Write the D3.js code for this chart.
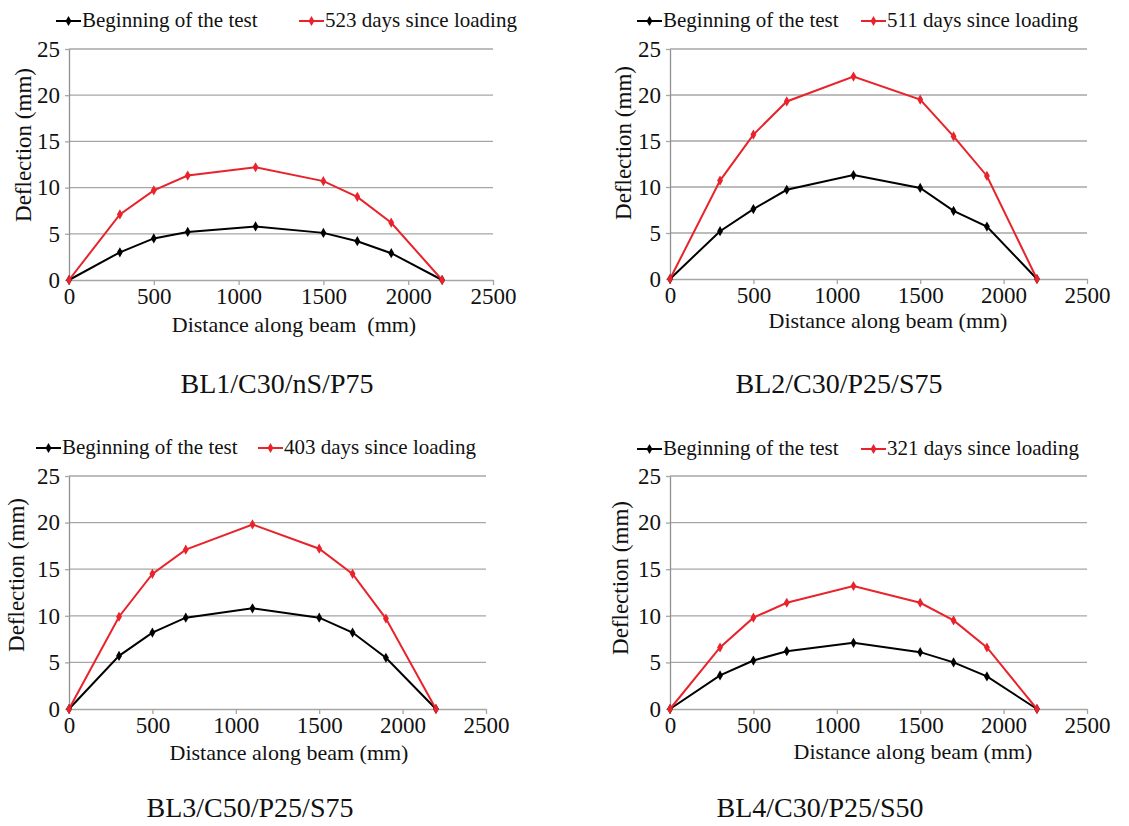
<!DOCTYPE html>
<html>
<head>
<meta charset="utf-8">
<script src="https://cdn.jsdelivr.net/npm/d3@7"></script>
<style>
  html, body { margin: 0; padding: 0; background: #fff; }
  svg { display: block; }
  svg text { font-family: "Liberation Serif", "Times New Roman", serif; }
</style>
</head>
<body>
<svg id="chart" width="1129" height="826"></svg>
<script>
// distance along the beam where deflection was measured (mm)
const distance = [0, 300, 500, 700, 1100, 1500, 1700, 1900, 2200];

// deflection (mm) at the beginning of the test
const bl1Start = [0, 3.0, 4.5, 5.2, 5.8, 5.1, 4.2, 2.9, 0];
const bl2Start = [0, 5.2, 7.6, 9.7, 11.3, 9.9, 7.4, 5.7, 0];
const bl3Start = [0, 5.7, 8.2, 9.8, 10.8, 9.8, 8.2, 5.5, 0];
const bl4Start = [0, 3.6, 5.2, 6.2, 7.1, 6.1, 5.0, 3.5, 0];

// deflection (mm) after long-term loading
const bl1Late = [0, 7.1, 9.7, 11.3, 12.2, 10.7, 9.0, 6.2, 0];
const bl2Late = [0, 10.7, 15.7, 19.3, 22.0, 19.5, 15.5, 11.2, 0];
const bl3Late = [0, 9.9, 14.5, 17.1, 19.8, 17.2, 14.5, 9.7, 0];
const bl4Late = [0, 6.6, 9.8, 11.4, 13.2, 11.4, 9.5, 6.6, 0];

const startLabel = "Beginning of the test";
const lateLabels = ["523 days since loading", "511 days since loading",
                    "403 days since loading", "321 days since loading"];
const captions = ["BL1/C30/nS/P75", "BL2/C30/P25/S75", "BL3/C50/P25/S75", "BL4/C30/P25/S50"];
const xTitles = ["Distance along beam  (mm)", "Distance along beam (mm)",
                 "Distance along beam (mm)", "Distance along beam (mm)"];
const yTitle = "Deflection (mm)";
const xTicks = [0, 500, 1000, 1500, 2000, 2500];
const yTicks = [0, 5, 10, 15, 20, 25];

const RED = "#e8232b";
const GRID = "#a6a6a6";

// plot boxes
const panels = [
  { start: bl1Start, late: bl1Late, x0: 69, x1: 493, y0: 49, y1: 280,
    legY: 21, legX: [56, 299], xTitleX: 294, xTitleY: 332, yTitleX: 24, yTitleY: 145, capX: 277, capY: 393 },
  { start: bl2Start, late: bl2Late, x0: 670, x1: 1087, y0: 49, y1: 279,
    legY: 21, legX: [637, 861], xTitleX: 888, xTitleY: 328, yTitleX: 624, yTitleY: 143, capX: 839, capY: 393 },
  { start: bl3Start, late: bl3Late, x0: 69, x1: 486, y0: 476, y1: 709,
    legY: 448, legX: [36, 258], xTitleX: 289, xTitleY: 760, yTitleX: 17, yTitleY: 575, capX: 250, capY: 817 },
  { start: bl4Start, late: bl4Late, x0: 670, x1: 1087, y0: 476, y1: 709,
    legY: 449, legX: [637, 861], xTitleX: 913, xTitleY: 759, yTitleX: 621, yTitleY: 578, capX: 820, capY: 817 }
];

const svg = d3.select("#chart");
const diamond = d3.symbol().type(d3.symbolDiamond).size(30);

panels.forEach((p, i) => {
  const x = d3.scaleLinear().domain([0, 2500]).range([p.x0, p.x1]);
  const y = d3.scaleLinear().domain([0, 25]).range([p.y1, p.y0]);
  const g = svg.append("g");

  // horizontal gridlines
  g.append("g")
    .selectAll("line")
    .data(yTicks.slice(1))
    .enter().append("line")
    .attr("x1", p.x0).attr("x2", p.x1)
    .attr("y1", d => y(d)).attr("y2", d => y(d))
    .attr("stroke", GRID).attr("stroke-width", 1.3);

  // x axis
  const xAxis = g.append("g")
    .attr("transform", `translate(0,${p.y1})`)
    .call(d3.axisBottom(x).tickValues(xTicks).tickFormat(d3.format("d"))
      .tickSize(5).tickPadding(3).tickSizeOuter(0));
  xAxis.select(".domain").attr("stroke", GRID).attr("stroke-width", 1.3);
  xAxis.selectAll(".tick line").attr("stroke", GRID).attr("stroke-width", 1.3);
  xAxis.selectAll(".tick text").attr("font-size", 23).attr("fill", "#111");

  // y axis
  const yAxis = g.append("g")
    .attr("transform", `translate(${p.x0},0)`)
    .call(d3.axisLeft(y).tickValues(yTicks).tickFormat(d3.format("d"))
      .tickSize(4).tickPadding(5).tickSizeOuter(0));
  yAxis.select(".domain").attr("stroke", "#909090").attr("stroke-width", 1.3);
  yAxis.selectAll(".tick line").attr("stroke", GRID).attr("stroke-width", 1.3);
  yAxis.selectAll(".tick text").attr("font-size", 23).attr("fill", "#111");

  // series
  const line = d3.line().x((d, k) => x(distance[k])).y(d => y(d));
  [[p.start, "#000"], [p.late, RED]].forEach(([vals, col]) => {
    g.append("path")
      .datum(vals)
      .attr("d", line)
      .attr("fill", "none")
      .attr("stroke", col)
      .attr("stroke-width", 2);
    g.selectAll(null)
      .data(vals)
      .enter().append("path")
      .attr("d", diamond)
      .attr("transform", (d, k) => `translate(${x(distance[k])},${y(d)})`)
      .attr("fill", col);
  });

  // legend
  [[startLabel, "#000"], [lateLabels[i], RED]].forEach(([label, col], k) => {
    const lx = p.legX[k];
    g.append("line")
      .attr("x1", lx).attr("x2", lx + 25)
      .attr("y1", p.legY).attr("y2", p.legY)
      .attr("stroke", col).attr("stroke-width", 2);
    g.append("path")
      .attr("d", diamond)
      .attr("transform", `translate(${lx + 12.5},${p.legY})`)
      .attr("fill", col);
    g.append("text")
      .attr("x", lx + 26).attr("y", p.legY + 6)
      .attr("font-size", 21).attr("fill", "#111")
      .text(label);
  });

  // axis titles
  g.append("text")
    .attr("x", p.xTitleX).attr("y", p.xTitleY)
    .attr("text-anchor", "middle")
    .attr("font-size", 22).attr("fill", "#111")
    .style("white-space", "pre")
    .text(xTitles[i]);

  g.append("text")
    .attr("transform", `translate(${p.yTitleX + 7},${p.yTitleY}) rotate(-90)`)
    .attr("text-anchor", "middle")
    .attr("font-size", 23).attr("fill", "#111")
    .text(yTitle);

  // panel caption
  g.append("text")
    .attr("x", p.capX).attr("y", p.capY)
    .attr("text-anchor", "middle")
    .attr("font-size", 28).attr("fill", "#111")
    .text(captions[i]);
});
</script>
</body>
</html>
